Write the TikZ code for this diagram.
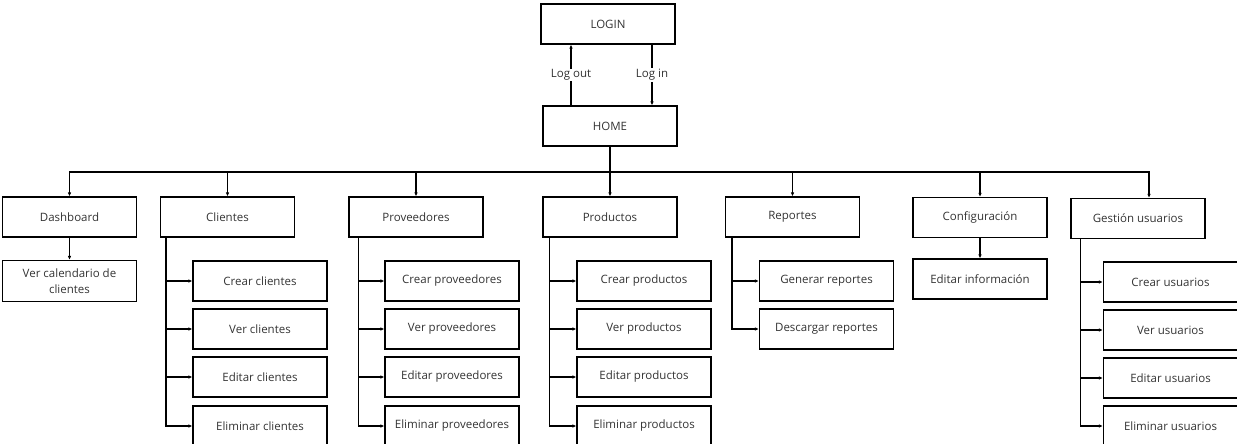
\documentclass[tikz,border=0pt]{standalone}
\usepackage{fontspec}
\setmainfont{Open Sans}
\usetikzlibrary{arrows.meta}

\begin{document}
\begin{tikzpicture}[x=1pt, y=-1pt, font=\fontsize{11.5}{16}\selectfont,
    box/.style={draw, line width=1.1pt, minimum width=134pt, minimum height=40pt, align=center, inner sep=2pt, text=black!80},
    link/.style={line width=1.1pt, -{Latex[length=4pt, width=3.5pt]}}]
\useasboundingbox (0,0) rectangle (1237,444);
% login / home
\node[box] (login) at (608,24) {LOGIN};
\node[box] (home) at (610,126) {HOME};
\draw[link] ([xshift=-39pt]home.north) -- ([xshift=-39pt]home.north |- login.south) node[midway, fill=white, inner sep=1pt, text=black!80] {Log out};
\draw[link] ([xshift=42pt]home.north |- login.south) -- ([xshift=42pt]home.north) node[midway, fill=white, inner sep=1pt, text=black!80] {Log in};
\coordinate (bus) at (610,172);
% modules
\node[box] (dash) at (69.5,217) {Dashboard};
\node[box] (cli) at (227.5,217) {Clientes};
\node[box] (prov) at (416,217) {Proveedores};
\node[box] (prod) at (610,217) {Productos};
\node[box] (rep) at (792.5,217) {Reportes};
\node[box] (conf) at (980,217.5) {Configuración};
\node[box] (gest) at (1138,218.5) {Gestión usuarios};
\foreach \m in {dash,cli,prov,prod,rep,conf}
  \draw[link] (home.south) -- (home.south |- bus) -| (\m.north);
\draw[link] (home.south) -- (home.south |- bus) -| ([xshift=11pt]gest.north);
% dashboard
\node[box, minimum height=41pt] (cal) at (69.5,281) {Ver calendario de\\clientes};
\draw[link] (dash.south) -- (cal.north);
% clientes
\node[box] (cli1) at (260,281) {Crear clientes};
\node[box] (cli2) at (260,329) {Ver clientes};
\node[box] (cli3) at (260,377) {Editar clientes};
\node[box] (cli4) at (260,426) {Eliminar clientes};
% proveedores
\node[box] (prov1) at (452,281) {Crear proveedores};
\node[box] (prov2) at (452,329) {Ver proveedores};
\node[box] (prov3) at (452,377) {Editar proveedores};
\node[box] (prov4) at (452,426) {Eliminar proveedores};
% productos
\node[box] (prod1) at (644,281) {Crear productos};
\node[box] (prod2) at (644,329) {Ver productos};
\node[box] (prod3) at (644,377) {Editar productos};
\node[box] (prod4) at (644,426) {Eliminar productos};
% reportes
\node[box] (rep1) at (826.5,281) {Generar reportes};
\node[box] (rep2) at (826.5,329) {Descargar reportes};
% configuracion
\node[box] (conf1) at (980,279) {Editar información};
\draw[link] (conf.south) -- (conf1.north);
% usuarios
\node[box] (gest1) at (1170.5,282) {Crear usuarios};
\node[box] (gest2) at (1170.5,330) {Ver usuarios};
\node[box] (gest3) at (1170.5,378) {Editar usuarios};
\node[box] (gest4) at (1170.5,426) {Eliminar usuarios};
\foreach \p/\c/\s in {cli/cli1/6,cli/cli2/6,cli/cli3/6,cli/cli4/6,prov/prov1/10,prov/prov2/10,prov/prov3/10,prov/prov4/10,
    prod/prod1/7,prod/prod2/7,prod/prod3/7,prod/prod4/7,rep/rep1/7,rep/rep2/7,gest/gest1/10,gest/gest2/10,gest/gest3/10,gest/gest4/10}
  \draw[link] ([xshift=\s pt]\p.south west) |- (\c.west);
\end{tikzpicture}
\end{document}
